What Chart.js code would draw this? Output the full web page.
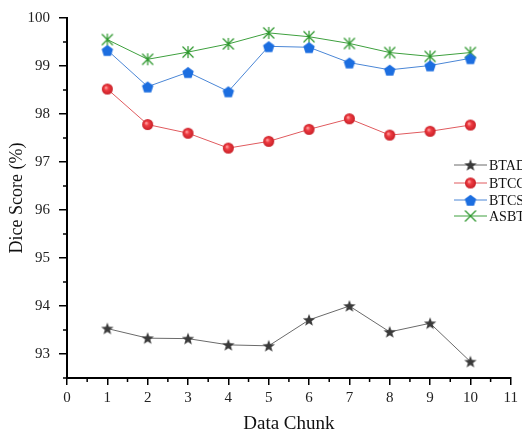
<!DOCTYPE html>
<html>
<head>
<meta charset="utf-8">
<script src="https://cdn.jsdelivr.net/npm/chart.js@4/dist/chart.umd.min.js"></script>
<style>
  html, body { margin: 0; padding: 0; background: #fff; }
  #wrap { position: relative; width: 522px; height: 435px; }
</style>
</head>
<body>
<div id="wrap"><canvas id="line-chart"></canvas></div>
<script>
// data
const chunks = [1, 2, 3, 4, 5, 6, 7, 8, 9, 10];
const btad = [93.53, 93.33, 93.32, 93.19, 93.17, 93.71, 94.00, 93.46, 93.64, 92.84];
const btcc = [98.52, 97.78, 97.60, 97.29, 97.43, 97.68, 97.90, 97.56, 97.64, 97.77];
const btcs = [99.33, 98.57, 98.87, 98.47, 99.41, 99.39, 99.07, 98.92, 99.01, 99.16];
const asbt = [99.55, 99.14, 99.29, 99.46, 99.69, 99.61, 99.47, 99.28, 99.20, 99.28];
const seriesNames = ["BTAD", "BTCC", "BTCS", "ASBT"];
const yTicks = [93, 94, 95, 96, 97, 98, 99, 100];
const xTicks = [0, 1, 2, 3, 4, 5, 6, 7, 8, 9, 10, 11];

const FONT = "'Liberation Serif', 'DejaVu Serif', serif";

// small marker images
function marker(size, draw) {
  const c = document.createElement("canvas");
  c.width = size; c.height = size;
  const g = c.getContext("2d");
  draw(g, size / 2);
  return c;
}
const starImg = marker(14, (g, r) => {
  g.beginPath();
  for (let i = 0; i < 10; i++) {
    const rad = i % 2 === 0 ? 6.5 : 2.7;
    const a = -Math.PI / 2 + i * Math.PI / 5;
    g.lineTo(r + rad * Math.cos(a), r + 0.5 + rad * Math.sin(a));
  }
  g.closePath();
  g.fillStyle = "#3a3a3a";
  g.fill();
});
const pentaImg = marker(14, (g, r) => {
  g.beginPath();
  for (let i = 0; i < 5; i++) {
    const a = -Math.PI / 2 + i * 2 * Math.PI / 5;
    g.lineTo(r + 6 * Math.cos(a), r + 0.8 + 6 * Math.sin(a));
  }
  g.closePath();
  g.fillStyle = "#1c6ee0";
  g.fill();
});
const circImg = marker(13, (g, r) => {
  const grd = g.createRadialGradient(r - 1.5, r - 1.5, 0.5, r, r, 5.5);
  grd.addColorStop(0, "#ff9a9a");
  grd.addColorStop(0.35, "#ee3c42");
  grd.addColorStop(1, "#c81e26");
  g.beginPath();
  g.arc(r, r, 5.5, 0, Math.PI * 2);
  g.fillStyle = grd;
  g.fill();
});
const asterImg = marker(14, (g, r) => {
  g.strokeStyle = "#2a962a";
  g.lineWidth = 1.2;
  g.beginPath();
  g.moveTo(r - 5.5, r - 5.5); g.lineTo(r + 5.5, r + 5.5);
  g.moveTo(r + 5.5, r - 5.5); g.lineTo(r - 5.5, r + 5.5);
  g.moveTo(r, r - 6); g.lineTo(r, r + 6);
  g.stroke();
});
const crossImg = marker(14, (g, r) => {
  g.strokeStyle = "#2a962a";
  g.lineWidth = 1.2;
  g.beginPath();
  g.moveTo(r - 5.5, r - 5.5); g.lineTo(r + 5.5, r + 5.5);
  g.moveTo(r + 5.5, r - 5.5); g.lineTo(r - 5.5, r + 5.5);
  g.stroke();
});

const toPts = arr => arr.map((v, i) => ({ x: chunks[i], y: v }));

// minor ticks between the labelled ones
const axisPlugin = {
  id: "axisTicks",
  afterDraw(chart) {
    const ctx = chart.ctx;
    const xs = chart.scales.x, ys = chart.scales.y;
    const a = chart.chartArea;
    ctx.save();
    ctx.strokeStyle = "#000";
    ctx.lineWidth = 1.5;
    ctx.beginPath();
    for (let v = 0.5; v < 11; v += 1) {
      const px = xs.getPixelForValue(v);
      ctx.moveTo(px, a.bottom); ctx.lineTo(px, a.bottom + 4);
    }
    for (let v = 92.5; v < 100; v += 1) {
      const py = ys.getPixelForValue(v);
      ctx.moveTo(a.left, py); ctx.lineTo(a.left - 4, py);
    }
    ctx.stroke();
    ctx.restore();
  }
};

// legend like the figure, near the right edge
const legendPlugin = {
  id: "sideLegend",
  afterDraw(chart) {
    const ctx = chart.ctx;
    const rows = [165, 183, 200, 216];
    const lx = 454, lw = 33;
    const imgs = [starImg, circImg, pentaImg, crossImg];
    ctx.save();
    chart.data.datasets.forEach((ds, i) => {
      const y = rows[i];
      ctx.strokeStyle = ds.borderColor;
      ctx.lineWidth = 1;
      ctx.beginPath();
      ctx.moveTo(lx, y); ctx.lineTo(lx + lw, y);
      ctx.stroke();
      const im = imgs[i];
      ctx.drawImage(im, lx + lw / 2 - im.width / 2, y - im.height / 2);
      ctx.fillStyle = "#111";
      ctx.font = "14px " + FONT;
      ctx.textBaseline = "middle";
      ctx.fillText(ds.label, lx + lw + 2, y + 1);
    });
    ctx.restore();
  }
};

const mkSet = (label, data, line, img) => ({
  label,
  data: toPts(data),
  borderColor: line,
  backgroundColor: line,
  borderWidth: 1,
  pointStyle: img,
  pointRadius: 6,
  tension: 0
});

const config = {
  type: "line",
  data: {
    datasets: [
      mkSet(seriesNames[0], btad, "#6a6a6a", starImg),
      mkSet(seriesNames[1], btcc, "#e05a5e", circImg),
      mkSet(seriesNames[2], btcs, "#4a86d6", pentaImg),
      mkSet(seriesNames[3], asbt, "#3ea03e", asterImg)
    ]
  },
  options: {
    responsive: true,
    maintainAspectRatio: false,
    animation: false,
    layout: { padding: { top: 14, right: 5, left: 0, bottom: 0 } },
    plugins: {
      legend: { display: false },
      tooltip: { enabled: false }
    },
    scales: {
      x: {
        type: "linear",
        min: 0,
        max: 11,
        afterBuildTicks: s => { s.ticks = xTicks.map(v => ({ value: v })); },
        afterFit: s => { s.height = 57; },
        border: { display: true, color: "#000", width: 2 },
        grid: { drawOnChartArea: false, color: "#000", lineWidth: 1.5, tickLength: 7 },
        ticks: { color: "#222", font: { family: FONT, size: 15 }, padding: 4, maxRotation: 0 },
        title: { display: true, text: "Data Chunk", color: "#111", font: { family: FONT, size: 19 }, padding: { top: 4, bottom: 0 } }
      },
      y: {
        min: 92.5,
        max: 100,
        afterBuildTicks: s => { s.ticks = yTicks.map(v => ({ value: v })); },
        afterFit: s => { s.width = 67; },
        border: { display: true, color: "#000", width: 2 },
        grid: { drawOnChartArea: false, color: "#000", lineWidth: 1.5, tickLength: 8 },
        ticks: { color: "#222", font: { family: FONT, size: 15 }, padding: 9 },
        title: { display: true, text: "Dice Score (%)", color: "#111", font: { family: FONT, size: 18 }, padding: { top: 6, bottom: 0 } }
      }
    }
  },
  plugins: [axisPlugin, legendPlugin]
};

const ctx = document.getElementById("line-chart").getContext("2d");
window.myLine = new Chart(ctx, config);
</script>
</body>
</html>
